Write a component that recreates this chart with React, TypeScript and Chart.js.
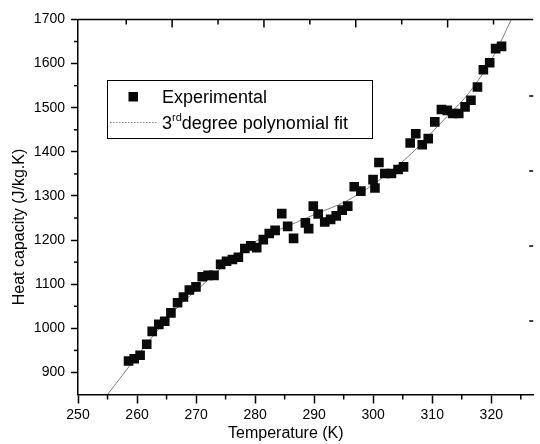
import React, { useEffect, useRef } from 'react';
import { Chart, registerables } from 'chart.js';

Chart.register(...registerables);

const FONT = '"Liberation Sans", Arial, Helvetica, sans-serif';

// Experimental measurements (Temperature K, Heat capacity J/kg.K)
const expTemperature = [
  258.56, 259.52, 260.52, 261.64, 262.57, 263.69, 264.69, 265.74, 266.86, 267.86,
  268.86, 269.98, 271.04, 272.04, 273.04, 274.16, 275.16, 276.16, 277.16, 278.26,
  279.27, 280.27, 281.39, 282.39, 283.39, 284.51, 285.51, 286.51, 288.51, 289.07,
  289.85, 290.68, 291.79, 292.79, 293.74, 294.74, 295.69, 296.79, 297.91, 299.97,
  300.3, 300.97, 301.97, 303.09, 304.21, 305.14, 306.26, 307.21, 308.31, 309.32,
  310.43, 311.55, 312.55, 313.49, 314.49, 315.56, 316.56, 317.66, 318.66, 319.73,
  320.73, 321.74,
];
const expHeatCapacity = [
  926, 931, 939, 964, 993, 1009, 1016, 1035, 1058, 1071,
  1087, 1094, 1117, 1120, 1120, 1145, 1152, 1156, 1161, 1181,
  1187, 1183, 1201, 1215, 1222, 1260, 1231, 1204, 1239, 1226,
  1277, 1259, 1241, 1247, 1255, 1268, 1277, 1321, 1311, 1337,
  1318, 1376, 1351, 1351, 1360, 1366, 1420, 1441, 1416, 1430,
  1468, 1496, 1494, 1487, 1487, 1502, 1517, 1547, 1586, 1602,
  1634, 1639,
];

// 3rd degree polynomial fit
const fitTemperature = [255, 257.2, 261, 266.6, 271, 276, 281.6, 285.4, 290.4, 295.4, 300, 305.4, 307.6, 310, 313, 315.5, 318.2, 320.5, 323.4];
const fitHeatCapacity = [850, 888, 954, 1044, 1097, 1157, 1209, 1231, 1260, 1288, 1326, 1383, 1411, 1445, 1487, 1522, 1570, 1620, 1700];

const xTickLabels = [250, 260, 270, 280, 290, 300, 310, 320];
const yTickLabels = [900, 1000, 1100, 1200, 1300, 1400, 1500, 1600, 1700];
const xMinorTicks = [255, 265, 275, 285, 295, 305, 315, 325];
const yMinorTicks = [950, 1050, 1150, 1250, 1350, 1450, 1550, 1650];
const topFrameTicks = [1, 2, 3, 4, 5, 6, 7, 8, 9];
const rightFrameTicks = [1, 2, 3, 4];

const xTitle = 'Temperature (K)';
const yTitle = 'Heat capacity (J/kg.K)';
const legendExperimental = 'Experimental';
const legendFitBase = '3';
const legendFitSup = 'rd';
const legendFitRest = 'degree polynomial fit';

const decorPlugin = {
  id: 'decor',
  afterDraw(chart: any) {
    const ctx = chart.ctx as CanvasRenderingContext2D;
    const a = chart.chartArea;
    const xs = chart.scales.x;
    const ys = chart.scales.y;
    const x2 = chart.scales.x2;
    const y2 = chart.scales.y2;
    const line = (x1: number, y1: number, xb: number, yb: number) => {
      ctx.beginPath();
      ctx.moveTo(x1, y1);
      ctx.lineTo(xb, yb);
      ctx.stroke();
    };
    ctx.save();
    ctx.strokeStyle = '#000';
    ctx.lineWidth = 1.5;
    // top frame
    line(a.left, a.top, a.right, a.top);
    // minor ticks
    xMinorTicks.forEach((v) => {
      if (v > xs.max) return;
      const px = xs.getPixelForValue(v);
      line(px, a.bottom, px, a.bottom + 5);
    });
    yMinorTicks.forEach((v) => {
      const py = ys.getPixelForValue(v);
      line(a.left - 4, py, a.left, py);
    });
    // inward ticks of the top and right frame
    topFrameTicks.forEach((v) => {
      const px = x2.getPixelForValue(v);
      line(px, a.top, px, a.top + (v % 2 === 0 ? 8 : 5));
    });
    rightFrameTicks.forEach((v) => {
      const py = y2.getPixelForValue(v);
      line(a.right - 4, py, a.right, py);
    });

    // axis titles
    ctx.fillStyle = '#000';
    ctx.font = `16px ${FONT}`;
    ctx.textAlign = 'center';
    ctx.textBaseline = 'middle';
    ctx.fillText(xTitle, xs.getPixelForValue(285.2), 434);
    ctx.save();
    ctx.translate(20, 227);
    ctx.rotate(-Math.PI / 2);
    ctx.fillText(yTitle, 0, 0);
    ctx.restore();

    // legend
    ctx.lineWidth = 1;
    ctx.strokeRect(107.5, 80.5, 265, 58);
    ctx.fillStyle = '#000';
    ctx.fillRect(128.5, 92, 9.5, 9.5);
    ctx.save();
    ctx.strokeStyle = '#888';
    ctx.lineWidth = 1;
    ctx.setLineDash([1.5, 1.5]);
    line(110, 122.5, 157, 122.5);
    ctx.restore();
    ctx.textAlign = 'left';
    ctx.textBaseline = 'alphabetic';
    ctx.font = `18px ${FONT}`;
    ctx.fillText(legendExperimental, 162, 103);
    ctx.fillText(legendFitBase, 162, 129);
    let cx = 162 + ctx.measureText(legendFitBase).width;
    ctx.font = `11px ${FONT}`;
    ctx.fillText(legendFitSup, cx, 121);
    cx += ctx.measureText(legendFitSup).width;
    ctx.font = `18px ${FONT}`;
    ctx.fillText(legendFitRest, cx, 129);
    ctx.restore();
  },
};

export default function App() {
  const canvasRef = useRef<HTMLCanvasElement | null>(null);

  useEffect(() => {
    document.body.style.margin = '0';
    const canvas = canvasRef.current;
    if (!canvas) return;
    Chart.defaults.font.family = FONT;
    const chart = new Chart(canvas, {
      type: 'scatter',
      data: {
        datasets: [
          {
            label: 'Experimental',
            data: expTemperature.map((t, i) => ({ x: t, y: expHeatCapacity[i] })),
            pointStyle: 'rect',
            pointRadius: 6.8,
            pointBackgroundColor: '#0a0a0a',
            pointBorderWidth: 0,
            showLine: false,
            order: 0,
          },
          {
            label: '3rd degree polynomial fit',
            data: fitTemperature.map((t, i) => ({ x: t, y: fitHeatCapacity[i] })),
            showLine: true,
            borderColor: '#6f6f6f',
            borderWidth: 0.9,
            pointRadius: 0,
            cubicInterpolationMode: 'monotone',
            order: 1,
          },
        ],
      },
      options: {
        responsive: false,
        animation: false,
        devicePixelRatio: 1,
        layout: { padding: { top: 19.5, right: 0, left: 0, bottom: 0 } },
        plugins: { legend: { display: false }, tooltip: { enabled: false } },
        scales: {
          x: {
            type: 'linear',
            min: 250,
            max: 327.1,
            afterBuildTicks: (s: any) => {
              s.ticks = xTickLabels.map((v) => ({ value: v }));
            },
            afterFit: (s: any) => {
              s.height = 49.5;
            },
            ticks: {
              color: '#000',
              font: { size: 14 },
              padding: 3,
              maxRotation: 0,
              autoSkip: false,
              callback: (v: any) => String(v),
            },
            grid: { drawOnChartArea: false, tickLength: 9, tickColor: '#000', tickWidth: 1.5 },
            border: { color: '#000', width: 1.5 },
          },
          y: {
            type: 'linear',
            min: 850,
            max: 1700,
            afterBuildTicks: (s: any) => {
              s.ticks = yTickLabels.map((v) => ({ value: v }));
            },
            afterFit: (s: any) => {
              s.width = 78;
            },
            ticks: {
              color: '#000',
              font: { size: 14 },
              padding: 6,
              autoSkip: false,
              callback: (v: any) => String(v),
            },
            grid: { drawOnChartArea: false, tickLength: 7, tickColor: '#000', tickWidth: 1.5 },
            border: { color: '#000', width: 1.5 },
          },
          x2: { type: 'linear', display: false, position: 'top', min: -0.05, max: 9.864 },
          y2: { type: 'linear', display: false, position: 'right', min: 0.02, max: 5.02 },
        },
      },
      plugins: [decorPlugin],
    } as any);
    return () => chart.destroy();
  }, []);

  return (
    <div style={{ width: 540, height: 444 }}>
      <canvas ref={canvasRef} width={540} height={444} style={{ display: 'block' }} />
    </div>
  );
}
